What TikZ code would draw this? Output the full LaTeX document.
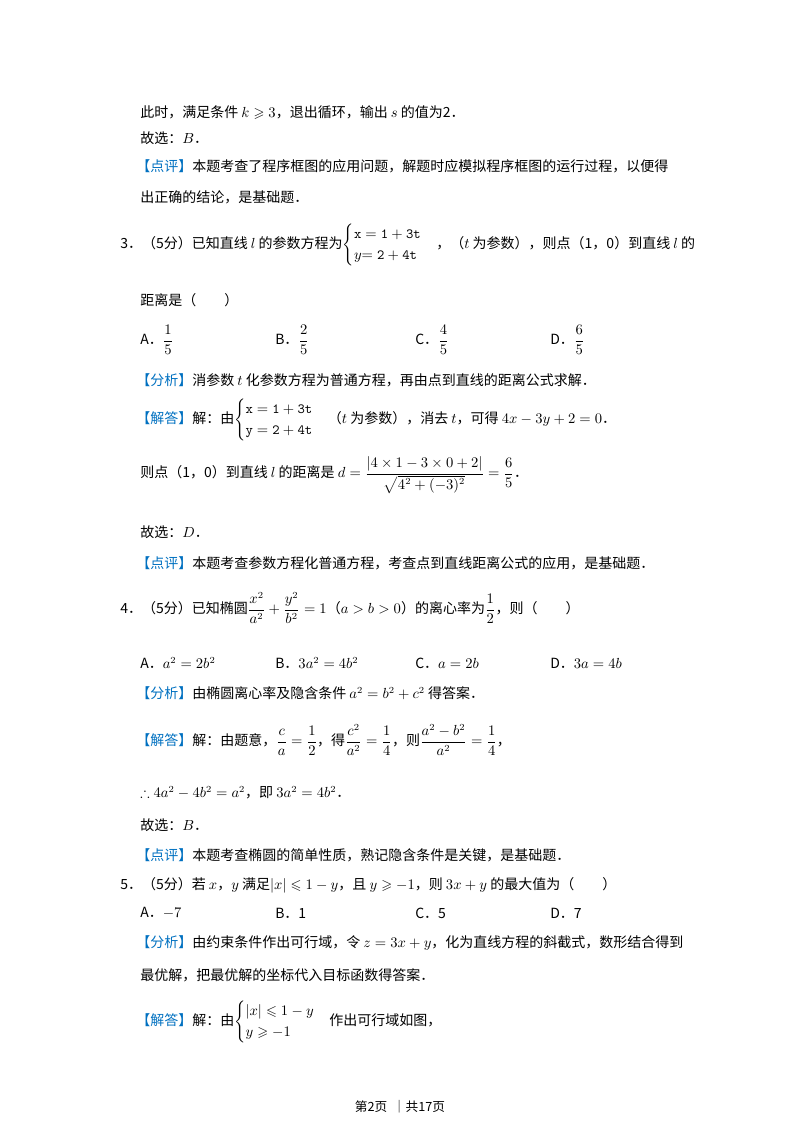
\documentclass[tikz,border=0pt]{standalone}
\usepackage{amsmath,amssymb}
\usepackage{fontspec}
\setmainfont{Noto Sans CJK SC}
\definecolor{tagblue}{RGB}{0,112,192}
\newcommand{\tg}[1]{\textcolor{tagblue}{【#1】}}
\begin{document}
\begin{tikzpicture}[x=0.75pt,y=-0.75pt,
  ln/.style={anchor=west,inner sep=0pt,font=\fontsize{10.5}{13}\selectfont}]
\useasboundingbox (0,0) rectangle (800,1132);
\node[ln] (l1) at (140,113) {此时，满足条件 $k\geqslant3$，退出循环，输出 $s$ 的值为2．};
\node[ln] (l2) at (140,138) {故选：$B$．};
\node[ln] (l3) at (136,166) {\tg{点评}本题考查了程序框图的应用问题，解题时应模拟程序框图的运行过程，以便得};
\node[ln] (l4) at (140,197) {出正确的结论，是基础题．};
\node[ln] (q3) at (120,245) {3．（5分）已知直线 $l$ 的参数方程为$\begin{cases}\mathtt{x=1+3t}\\ y\mathtt{=2+4t}\end{cases}$，（$t$ 为参数），则点（1，0）到直线 $l$ 的};
\node[ln] (q3b) at (140,300) {距离是（\qquad）};
\node[ln] (a3) at (140,340) {A．$\dfrac{1}{5}$};
\node[ln] (b3) at (275,340) {B．$\dfrac{2}{5}$};
\node[ln] (c3) at (415,340) {C．$\dfrac{4}{5}$};
\node[ln] (d3) at (550,340) {D．$\dfrac{6}{5}$};
\node[ln] (f3) at (136,380) {\tg{分析}消参数 $t$ 化参数方程为普通方程，再由点到直线的距离公式求解．};
\node[ln] (s3) at (136,420) {\tg{解答}解：由$\begin{cases}\mathtt{x=1+3t}\\ \mathtt{y=2+4t}\end{cases}$（$t$ 为参数），消去 $t$，可得 $4x-3y+2=0$．};
\node[ln] (s3b) at (140,475) {则点（1，0）到直线 $l$ 的距离是 $d=\dfrac{|4\times1-3\times0+2|}{\sqrt{4^2+(-3)^2}}=\dfrac{6}{5}$．};
\node[ln] (s3c) at (140,532) {故选：$D$．};
\node[ln] (p3) at (136,563) {\tg{点评}本题考查参数方程化普通方程，考查点到直线距离公式的应用，是基础题．};
\node[ln] (q4) at (120,608) {4．（5分）已知椭圆$\dfrac{x^2}{a^2}+\dfrac{y^2}{b^2}=1$（$a>b>0$）的离心率为$\dfrac{1}{2}$，则（\qquad）};
\node[ln] (a4) at (140,663) {A．$a^2=2b^2$};
\node[ln] (b4) at (275,663) {B．$3a^2=4b^2$};
\node[ln] (c4) at (415,663) {C．$a=2b$};
\node[ln] (d4) at (550,663) {D．$3a=4b$};
\node[ln] (f4) at (136,693) {\tg{分析}由椭圆离心率及隐含条件 $a^2=b^2+c^2$ 得答案．};
\node[ln] (s4) at (136,740) {\tg{解答}解：由题意，$\dfrac{c}{a}=\dfrac{1}{2}$，得$\dfrac{c^2}{a^2}=\dfrac{1}{4}$，则$\dfrac{a^2-b^2}{a^2}=\dfrac{1}{4}$，};
\node[ln] (s4b) at (140,793) {$\therefore 4a^2-4b^2=a^2$，即 $3a^2=4b^2$．};
\node[ln] (s4c) at (140,825) {故选：$B$．};
\node[ln] (p4) at (136,855) {\tg{点评}本题考查椭圆的简单性质，熟记隐含条件是关键，是基础题．};
\node[ln] (q5) at (120,885) {5．（5分）若 $x$，$y$ 满足$|x|\leqslant1-y$，且 $y\geqslant-1$，则 $3x+y$ 的最大值为（\qquad）};
\node[ln] (a5) at (140,913) {A．$-7$};
\node[ln] (b5) at (275,913) {B．1};
\node[ln] (c5) at (415,913) {C．5};
\node[ln] (d5) at (550,913) {D．7};
\node[ln] (f5) at (136,943) {\tg{分析}由约束条件作出可行域，令 $z=3x+y$，化为直线方程的斜截式，数形结合得到};
\node[ln] (f5b) at (140,975) {最优解，把最优解的坐标代入目标函数得答案．};
\node[ln] (s5) at (136,1022) {\tg{解答}解：由$\begin{cases}|x|\leqslant1-y\\ y\geqslant-1\end{cases}$作出可行域如图，};
\node[anchor=center,inner sep=0pt,font=\fontsize{9.5}{11}\selectfont] (ft) at (400,1107) {第2页\ \ ｜共17页};
\end{tikzpicture}
\end{document}
